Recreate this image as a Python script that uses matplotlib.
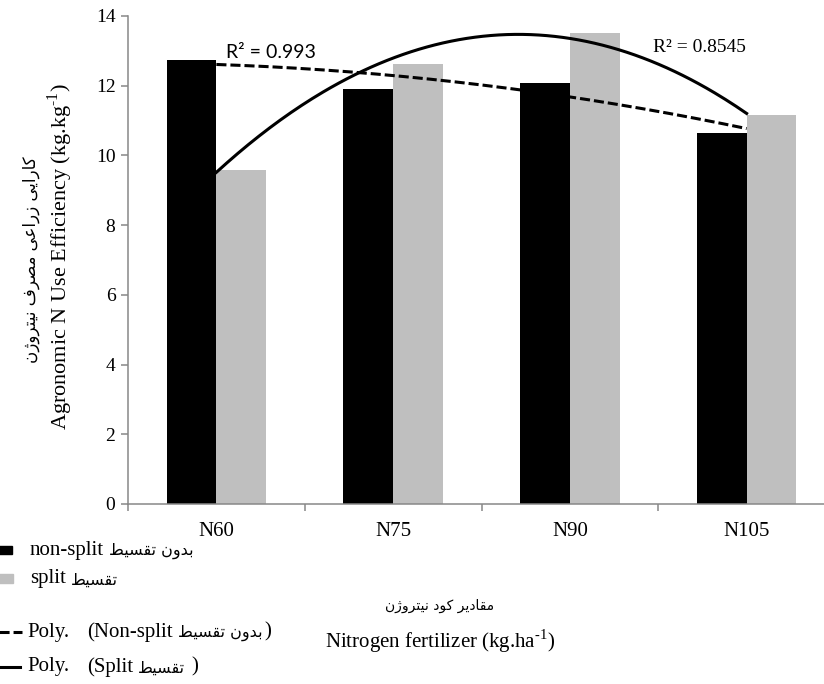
import numpy as np
import matplotlib
matplotlib.use("Agg")
import matplotlib.pyplot as plt
from matplotlib.patches import Rectangle
from matplotlib.lines import Line2D

plt.rcParams['font.family'] = ['Liberation Serif', 'DejaVu Sans']
plt.rcParams['mathtext.fontset'] = 'custom'
plt.rcParams['mathtext.rm'] = 'Liberation Serif'

# data
categories = ["N60", "N75", "N90", "N105"]
non_split = [12.74, 11.90, 12.07, 10.64]
split = [9.57, 12.63, 13.52, 11.15]
y_ticks = [0, 2, 4, 6, 8, 10, 12, 14]
r2_labels = ["R² = 0.993", "R² = 0.8545"]

# Persian letters -> (isolated, final, initial, medial) presentation forms
FORMS = {
    'ا': ('\uFE8D', '\uFE8E'),
    'د': ('\uFEA9', '\uFEAA'),
    'ر': ('\uFEAD', '\uFEAE'),
    'ز': ('\uFEAF', '\uFEB0'),
    'ژ': ('\uFB8A', '\uFB8B'),
    'و': ('\uFEED', '\uFEEE'),
    'ب': ('\uFE8F', '\uFE90', '\uFE91', '\uFE92'),
    'ت': ('\uFE95', '\uFE96', '\uFE97', '\uFE98'),
    'س': ('\uFEB1', '\uFEB2', '\uFEB3', '\uFEB4'),
    'ص': ('\uFEB9', '\uFEBA', '\uFEBB', '\uFEBC'),
    'ط': ('\uFEC1', '\uFEC2', '\uFEC3', '\uFEC4'),
    'ع': ('\uFEC9', '\uFECA', '\uFECB', '\uFECC'),
    'ف': ('\uFED1', '\uFED2', '\uFED3', '\uFED4'),
    'ق': ('\uFED5', '\uFED6', '\uFED7', '\uFED8'),
    'ک': ('\uFB8E', '\uFB8F', '\uFB90', '\uFB91'),
    'م': ('\uFEE1', '\uFEE2', '\uFEE3', '\uFEE4'),
    'ن': ('\uFEE5', '\uFEE6', '\uFEE7', '\uFEE8'),
    'ی': ('\uFBFC', '\uFBFD', '\uFBFE', '\uFBFF'),
}


def fa(text):
    """Join Persian letters and return them in display (left-to-right) order."""
    out = []
    for i, ch in enumerate(text):
        if ch not in FORMS:
            out.append(ch)
            continue
        prev = text[i - 1] if i > 0 else ''
        nxt = text[i + 1] if i + 1 < len(text) else ''
        join_prev = prev in FORMS and len(FORMS[prev]) == 4
        join_next = len(FORMS[ch]) == 4 and nxt in FORMS
        f = FORMS[ch]
        if join_prev and join_next:
            out.append(f[3])
        elif join_prev:
            out.append(f[1])
        elif join_next:
            out.append(f[2])
        else:
            out.append(f[0])
    return ''.join(out)[::-1]


W, H = 824, 684
fig = plt.figure(figsize=(W / 100, H / 100), dpi=100)
renderer = fig.canvas.get_renderer()


def fx(x):
    return x / W


def fy(y):
    return 1 - y / H


ax = fig.add_axes([fx(128), fy(504), (835 - 128) / W, (504 - 16) / H])

x = np.arange(len(categories))
w = 0.281
ax.bar(x - w / 2, non_split, w, color='black', zorder=2)
ax.bar(x + w / 2, split, w, color='#bfbfbf', zorder=2)

# quadratic trend lines through both series
xs = np.linspace(0, 3, 200)
p_ns = np.polyfit(x, non_split, 2)
p_s = np.polyfit(x, split, 2)
ax.plot(xs, np.polyval(p_ns, xs), color='black', lw=2.2,
        linestyle=(0, (3.3, 1.3)), zorder=3)
ax.plot(xs, np.polyval(p_s, xs), color='black', lw=2.2, zorder=3)

ax.set_xlim(-0.5, 3.5)
ax.set_ylim(0, 14)
ax.set_yticks(y_ticks, [str(v) for v in y_ticks])
ax.set_xticks(x, categories)
ax.set_xticks(np.arange(-0.5, 4, 1), minor=True)
ax.tick_params(axis='x', which='major', length=0, pad=13, labelsize=15)
ax.tick_params(axis='x', which='minor', length=5, color='#888888', width=1.1)
ax.tick_params(axis='y', length=5, color='#888888', width=1.1, pad=4, labelsize=14)
for lbl in ax.get_xticklabels() + ax.get_yticklabels():
    lbl.set_fontfamily('Liberation Serif')
for s in ['top', 'right']:
    ax.spines[s].set_visible(False)
for s in ['left', 'bottom']:
    ax.spines[s].set_color('#888888')
    ax.spines[s].set_linewidth(1.1)

fig.text(fx(226), fy(52), r2_labels[0], family='Lato', fontsize=14, va='center')
fig.text(fx(653), fy(47), r2_labels[1], fontsize=14, va='center')

# axis titles
fig.text(fx(31), fy(260), fa("کارایی زراعی مصرف نیتروژن"), family='DejaVu Sans',
         fontsize=12, rotation=90, ha='center', va='center')
fig.text(fx(60), fy(257), r"Agronomic N Use Efficiency (kg.kg$^{\text{-1}}$)",
         fontsize=16, rotation=90, ha='center', va='center')
fig.text(fx(440), fy(606), fa("مقادیر کود نیتروژن"), family='DejaVu Sans',
         fontsize=10, ha='center', va='center')
fig.text(fx(440), fy(641), r"Nitrogen fertilizer (kg.ha$^{\text{-1}}$)",
         fontsize=15, ha='center', va='center')

# legend swatches
fig.patches.append(Rectangle((fx(-5), fy(554)), 17 / W, 8 / H, color='black',
                             transform=fig.transFigure, clip_on=False))
fig.patches.append(Rectangle((fx(-5), fy(583)), 18 / W, 9 / H, color='#bfbfbf',
                             transform=fig.transFigure, clip_on=False))
fig.lines.append(Line2D([fx(-2), fx(22)], [fy(632), fy(632)], color='black', lw=2.2,
                        linestyle=(0, (3.3, 1.3)), transform=fig.transFigure))
fig.lines.append(Line2D([fx(-2), fx(20)], [fy(667), fy(667)], color='black', lw=2.2,
                        transform=fig.transFigure))


def legend_row(x0, y, parts):
    """Write mixed English / Persian pieces one after another from pixel x0."""
    xpos = x0
    for txt, is_fa, gap in parts:
        if is_fa:
            t = fig.text(fx(xpos), fy(y + 1), fa(txt), family='DejaVu Sans',
                         fontsize=11.5, va='center')
        else:
            t = fig.text(fx(xpos), fy(y), txt, fontsize=15, va='center')
        bb = t.get_window_extent(renderer)
        xpos += bb.width + gap


legend_row(30, 550, [("non-split", False, 5), ("بدون تقسیط", True, 0)])
legend_row(30, 579, [("split", False, 5), ("تقسیط", True, 0)])
legend_row(27, 632, [("Poly.", False, 18), ("(Non-split", False, 5),
                     ("بدون تقسیط", True, 2), (")", False, 0)])
legend_row(27, 667, [("Poly.", False, 18), ("(Split", False, 5),
                     ("تقسیط", True, 6), (")", False, 0)])

fig.savefig("out.png", dpi=100)
